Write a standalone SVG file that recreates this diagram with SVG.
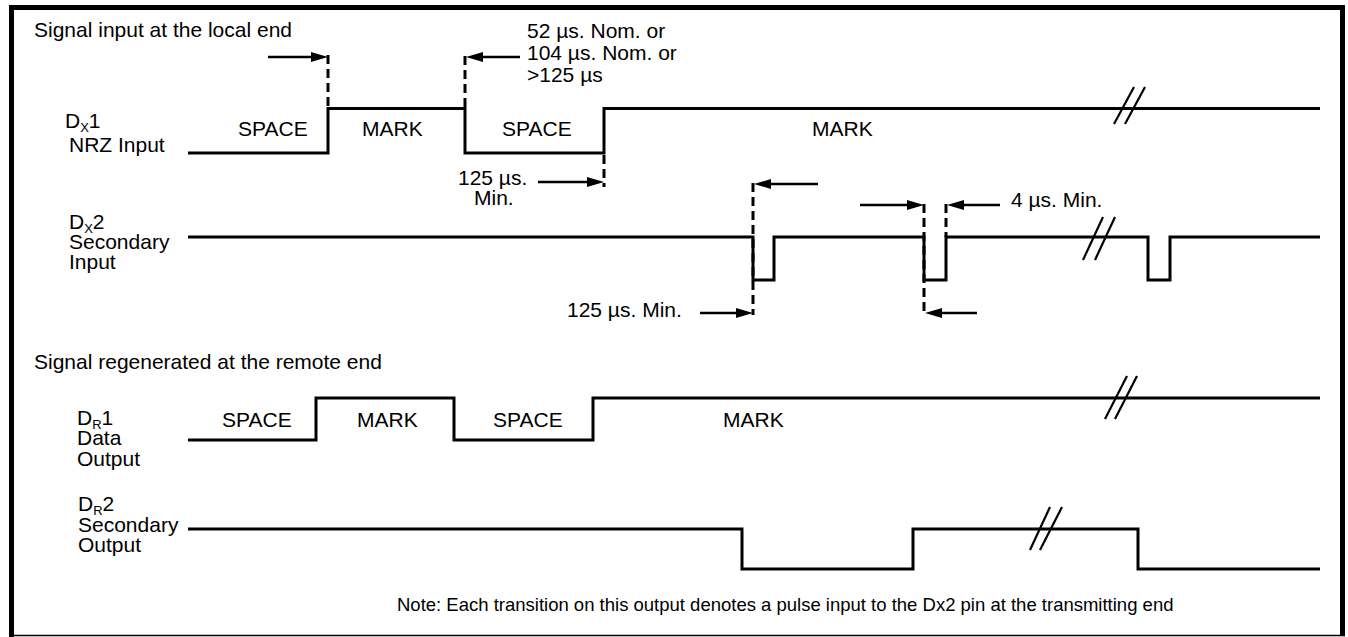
<svg xmlns="http://www.w3.org/2000/svg" width="1348" height="637" viewBox="0 0 1348 637">
<style>
text{font-family:"Liberation Sans",Arial,sans-serif;font-size:21px;fill:#000}
.sub{font-size:13px}
.note{font-size:18.5px}
.wave{fill:none;stroke:#000;stroke-width:3;stroke-linejoin:miter}
.brk{stroke:#000;stroke-width:2.2;fill:none}
.dash{stroke:#000;stroke-width:3;stroke-dasharray:9 5;fill:none}
.arr{stroke:#000;stroke-width:2.5;fill:none;marker-end:url(#ah)}
</style>
<defs>
<marker id="ah" viewBox="0 0 17 10" refX="9" refY="5" markerWidth="17" markerHeight="10" markerUnits="userSpaceOnUse" orient="auto">
<path d="M0,0 L17,5 L0,10 z" fill="#000"/>
</marker>
</defs>
<rect width="1348" height="637" fill="#fff"/>
<g id="frame">
<path d="M11.5,637 V7.5 H1342.5 V635" fill="none" stroke="#000" stroke-width="5"/>
<line x1="9" y1="635.5" x2="1345" y2="635.5" stroke="#000" stroke-width="1.5"/>
</g>
<g id="headings">
<text x="34" y="37">Signal input at the local end</text>
<text x="34" y="369">Signal regenerated at the remote end</text>
<text class="note" x="397" y="611">Note: Each transition on this output denotes a pulse input to the Dx2 pin at the transmitting end</text>
</g>
<g id="dx1">
<text x="65" y="128">D<tspan class="sub" dy="4">X</tspan><tspan dy="-4">1</tspan></text>
<text x="69" y="152">NRZ Input</text>
<polyline class="wave" points="188,153 328,153 328,108.5 465,108.5 465,153 604,153 604,108.5 1320,108.5"/>
<text x="238" y="136">SPACE</text>
<text x="362" y="136">MARK</text>
<text x="502" y="136">SPACE</text>
<text x="812" y="136">MARK</text>
<line class="brk" x1="1114" y1="124" x2="1134" y2="87"/>
<line class="brk" x1="1125" y1="124" x2="1145" y2="87"/>
</g>
<g id="dx2">
<text x="69" y="229">D<tspan class="sub" dy="4">X</tspan><tspan dy="-4">2</tspan></text>
<text x="69" y="249">Secondary</text>
<text x="69" y="269">Input</text>
<polyline class="wave" points="188,237 753,237 753,280 774,280 774,237 924,237 924,280 946,280 946,237 1148,237 1148,280 1170,280 1170,237 1320,237"/>
<line class="brk" x1="1083" y1="260" x2="1103" y2="217"/>
<line class="brk" x1="1095" y1="260" x2="1115" y2="217"/>
</g>
<g id="dr1">
<text x="77" y="425">D<tspan class="sub" dy="4">R</tspan><tspan dy="-4">1</tspan></text>
<text x="77" y="445">Data</text>
<text x="77" y="466">Output</text>
<polyline class="wave" points="188,440 316,440 316,398 454,398 454,440 593,440 593,398 1320,398"/>
<text x="222" y="427">SPACE</text>
<text x="357" y="427">MARK</text>
<text x="493" y="427">SPACE</text>
<text x="723" y="427">MARK</text>
<line class="brk" x1="1105" y1="419" x2="1127" y2="376"/>
<line class="brk" x1="1115" y1="419" x2="1137" y2="376"/>
</g>
<g id="dr2">
<text x="78" y="511">D<tspan class="sub" dy="4">R</tspan><tspan dy="-4">2</tspan></text>
<text x="78" y="532">Secondary</text>
<text x="78" y="552">Output</text>
<polyline class="wave" points="188,529 742,529 742,569 913,569 913,529 1138,529 1138,569 1320,569"/>
<line class="brk" x1="1030" y1="550" x2="1050" y2="507"/>
<line class="brk" x1="1040" y1="550" x2="1062" y2="507"/>
</g>
<g id="timing">
<text x="527" y="38">52 µs. Nom. or</text>
<text x="527" y="60">104 µs. Nom. or</text>
<text x="527" y="82">&gt;125 µs</text>
<text x="458" y="185">125 µs.</text>
<text x="474" y="205">Min.</text>
<text x="567" y="317">125 µs. Min.</text>
<text x="1011" y="207">4 µs. Min.</text>
</g>
<g id="connectors">
<line class="dash" x1="328" y1="55" x2="328" y2="108"/>
<line class="dash" x1="465" y1="56" x2="465" y2="108"/>
<line class="dash" x1="604" y1="155" x2="604" y2="187"/>
<line class="dash" x1="753" y1="183" x2="753" y2="315"/>
<line class="dash" x1="924" y1="204" x2="924" y2="315"/>
<line class="dash" x1="946" y1="204" x2="946" y2="237"/>
<line class="arr" x1="268" y1="57" x2="320" y2="57"/>
<line class="arr" x1="520" y1="57" x2="474" y2="57"/>
<line class="arr" x1="538" y1="182" x2="596" y2="182"/>
<line class="arr" x1="818" y1="184" x2="762" y2="184"/>
<line class="arr" x1="700" y1="313" x2="745" y2="313"/>
<line class="arr" x1="860" y1="205" x2="916" y2="205"/>
<line class="arr" x1="1000" y1="205" x2="955" y2="205"/>
<line class="arr" x1="977" y1="313" x2="933" y2="313"/>
</g>
</svg>
